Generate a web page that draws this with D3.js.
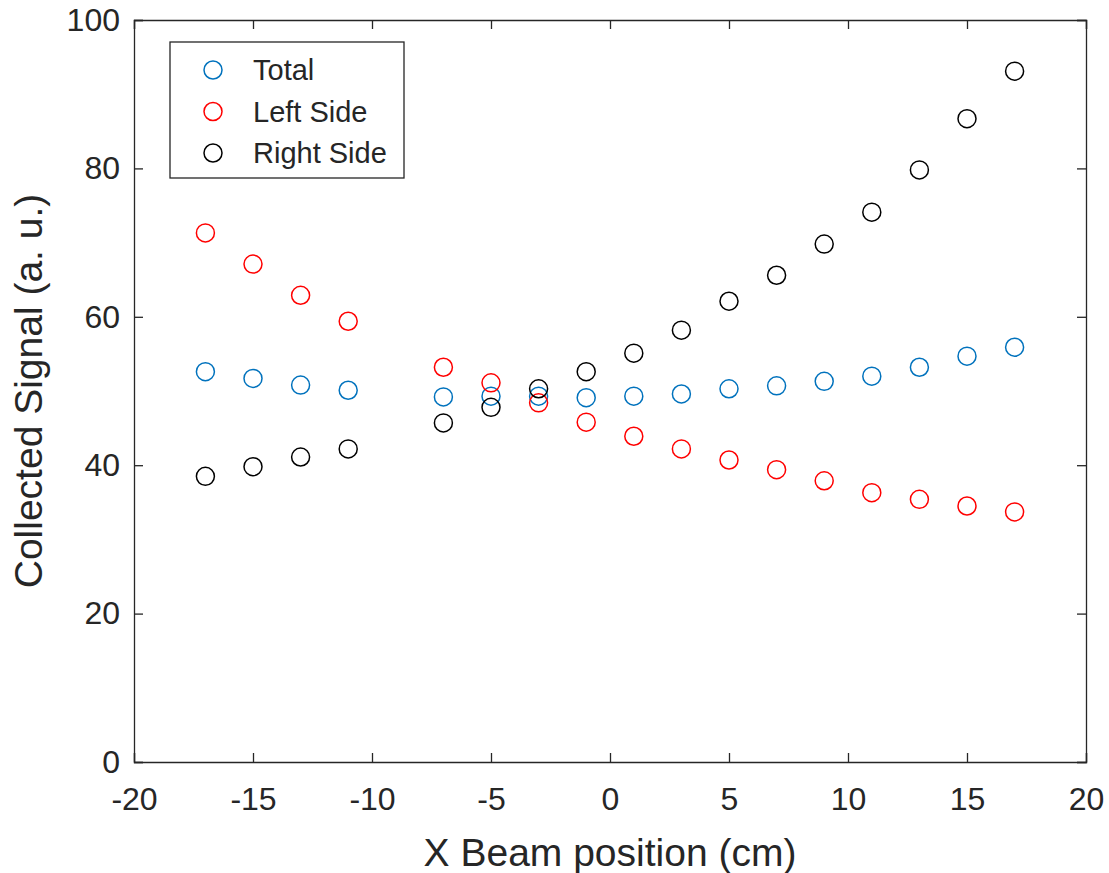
<!DOCTYPE html>
<html>
<head>
<meta charset="utf-8">
<script src="https://cdn.jsdelivr.net/npm/d3@7"></script>
<style>
  body { margin: 0; background: #fff; }
  text { font-family: "Liberation Sans", Arial, sans-serif; fill: #262626; }
</style>
</head>
<body>
<div id="chart"></div>
<script>
const xPos = [-17, -15, -13, -11, -7, -5, -3, -1, 1, 3, 5, 7, 9, 11, 13, 15, 17];
const total = [52.6, 51.7, 50.8, 50.1, 49.2, 49.3, 49.3, 49.1, 49.3, 49.6, 50.3, 50.7, 51.3, 52.0, 53.2, 54.7, 55.9];
const leftSide = [71.3, 67.1, 62.9, 59.4, 53.2, 51.1, 48.4, 45.8, 43.9, 42.2, 40.7, 39.4, 37.9, 36.3, 35.4, 34.5, 33.7];
const rightSide = [38.5, 39.8, 41.1, 42.2, 45.7, 47.8, 50.3, 52.6, 55.1, 58.2, 62.1, 65.6, 69.8, 74.1, 79.8, 86.7, 93.1];
const xTicks = [-20, -15, -10, -5, 0, 5, 10, 15, 20];
const yTicks = [0, 20, 40, 60, 80, 100];

const series = [
  { name: "Total", values: total, color: "#0072BD" },
  { name: "Left Side", values: leftSide, color: "#FF0000" },
  { name: "Right Side", values: rightSide, color: "#000000" }
];

const W = 1109, H = 873;
const margin = { top: 20, right: 23, bottom: 111, left: 134 };
const width = W - margin.left - margin.right;
const height = H - margin.top - margin.bottom;

const svg = d3.select("#chart").append("svg")
  .attr("width", W).attr("height", H);
const g = svg.append("g")
  .attr("transform", "translate(" + margin.left + "," + margin.top + ")");

const xScale = d3.scaleLinear().domain([-20, 20]).range([0, width]);
const yScale = d3.scaleLinear().domain([0, 100]).range([height, 0]);

const tickLen = 9;
const axColor = "#262626";
const fmt = d => String(d);  // plain hyphen minus like the original

// bottom and left axes with inward ticks
const xAxis = g.append("g")
  .attr("transform", "translate(0," + height + ")")
  .call(d3.axisBottom(xScale).tickValues(xTicks).tickSize(-tickLen).tickPadding(25).tickFormat(fmt));
const yAxis = g.append("g")
  .call(d3.axisLeft(yScale).tickValues(yTicks).tickSize(-tickLen).tickPadding(14).tickFormat(fmt));
// top and right axes, ticks only
const xTop = g.append("g")
  .call(d3.axisTop(xScale).tickValues(xTicks).tickSize(-tickLen).tickFormat(""));
const yRight = g.append("g")
  .attr("transform", "translate(" + width + ",0)")
  .call(d3.axisRight(yScale).tickValues(yTicks).tickSize(-tickLen).tickFormat(""));

for (const ax of [xAxis, yAxis, xTop, yRight]) {
  ax.select(".domain").attr("stroke", axColor).attr("stroke-width", 1.3);
  ax.selectAll(".tick line").attr("stroke", axColor).attr("stroke-width", 1.3);
  ax.selectAll(".tick text").attr("font-size", 32).attr("fill", axColor)
    .style("font-family", "'Liberation Sans', Arial, sans-serif");
}

// markers
for (const s of series) {
  g.append("g").selectAll("circle")
    .data(xPos.map((x, i) => [x, s.values[i]]))
    .join("circle")
    .attr("cx", d => xScale(d[0]))
    .attr("cy", d => yScale(d[1]))
    .attr("r", 9)
    .attr("fill", "none")
    .attr("stroke", s.color)
    .attr("stroke-width", 1.5);
}

// axis labels
svg.append("text")
  .attr("x", margin.left + width / 2).attr("y", 866)
  .attr("text-anchor", "middle").attr("font-size", 39)
  .text("X Beam position (cm)");
svg.append("text")
  .attr("transform", "translate(42," + (margin.top + height / 2) + ") rotate(-90)")
  .attr("text-anchor", "middle").attr("font-size", 39)
  .text("Collected Signal (a. u.)");

// legend
const lg = svg.append("g").attr("transform", "translate(170,42)");
lg.append("rect").attr("width", 234).attr("height", 136)
  .attr("fill", "#fff").attr("stroke", axColor).attr("stroke-width", 1.3);
series.forEach((s, i) => {
  const yy = 28 + i * 41.5;
  lg.append("circle").attr("cx", 43).attr("cy", yy).attr("r", 9)
    .attr("fill", "none").attr("stroke", s.color).attr("stroke-width", 1.5);
  lg.append("text").attr("x", 83).attr("y", yy + 10).attr("font-size", 29)
    .attr("fill", "#000").text(s.name);
});
</script>
</body>
</html>
